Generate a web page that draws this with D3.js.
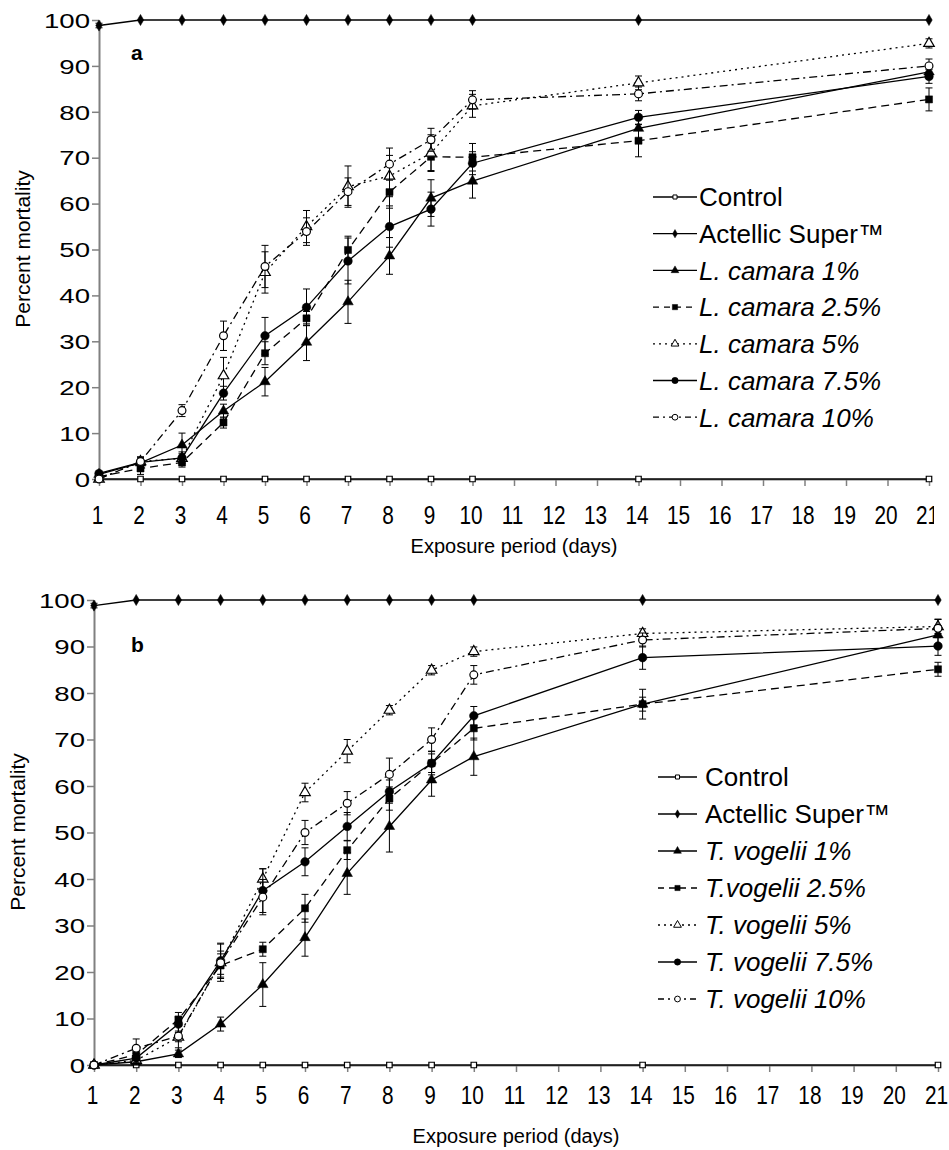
<!DOCTYPE html>
<html>
<head>
<meta charset="utf-8">
<script src="https://cdn.jsdelivr.net/npm/d3@7"></script>
<style>
  body { margin: 0; background: #fff; }
  text { font-family: "Liberation Sans", Arial, sans-serif; fill: #000; }
</style>
</head>
<body>
<svg id="chart" width="949" height="1150"></svg>
<script>
// Data
const days = [1, 2, 3, 4, 5, 6, 7, 8, 9, 10, 14, 21];
const xTicks = d3.range(1, 22);
const yTicks = d3.range(0, 101, 10);

const control = [0, 0, 0, 0, 0, 0, 0, 0, 0, 0, 0, 0];
const actellic = [98.8, 100, 100, 100, 100, 100, 100, 100, 100, 100, 100, 100];
const actellicErr = [0.5, 0, 0, 0, 0, 0, 0, 0, 0, 0, 0, 0];
const noErr = [0, 0, 0, 0, 0, 0, 0, 0, 0, 0, 0, 0];

// panel a: L. camara
const lc1  = [1.0, 3.5, 7.4, 14.8, 21.2, 29.8, 38.6, 48.6, 61.2, 64.9, 76.4, 88.7];
const lc25 = [0.5, 2.3, 3.6, 12.3, 27.4, 35.0, 49.9, 62.5, 70.2, 70.1, 73.7, 82.7];
const lc5  = [0, 3.8, 4.5, 22.5, 45.0, 55.0, 63.7, 66.0, 71.0, 81.3, 86.3, 94.9];
const lc75 = [1.2, 3.6, 4.6, 18.7, 31.2, 37.4, 47.5, 55.0, 58.8, 68.8, 78.8, 87.7];
const lc10 = [0, 3.8, 14.9, 31.2, 46.3, 53.9, 62.6, 68.6, 73.9, 82.6, 83.9, 90.0];
const lc1Err  = [0, 0.8, 2.6, 1.5, 3.1, 4.0, 4.7, 4.0, 4.0, 3.7, 2.5, 1.5];
const lc25Err = [0, 1.3, 1.0, 1.2, 2.5, 1.5, 3.0, 3.5, 3.0, 3.0, 3.5, 2.5];
const lc5Err  = [0, 1.0, 1.0, 4.0, 4.5, 3.5, 4.5, 4.5, 4.0, 2.5, 1.5, 1.0];
const lc75Err = [0.5, 1.0, 1.3, 1.5, 4.0, 4.0, 5.0, 4.5, 3.7, 2.5, 1.5, 1.5];
const lc10Err = [0, 1.0, 1.3, 3.2, 4.6, 3.0, 3.0, 3.5, 2.5, 2.0, 1.5, 1.5];
const namesA = ["Control", "Actellic Super™", "L. camara 1%", "L. camara 2.5%",
  "L. camara 5%", "L. camara 7.5%", "L. camara 10%"];

// panel b: T. vogelii
const tv1  = [0, 0.7, 2.4, 8.8, 17.3, 27.4, 41.2, 51.3, 61.3, 66.3, 77.6, 92.5];
const tv25 = [0, 2.2, 9.8, 21.4, 24.9, 33.7, 46.2, 57.3, 64.9, 72.4, 77.6, 85.1];
const tv5  = [0, 1.0, 6.0, 22.0, 40.0, 58.6, 67.5, 76.3, 84.9, 88.9, 92.8, 94.3];
const tv75 = [0, 1.5, 8.8, 22.4, 37.5, 43.7, 51.3, 58.8, 64.9, 75.1, 87.6, 90.1];
const tv10 = [0, 3.6, 6.2, 22.0, 36.1, 50.0, 56.3, 62.5, 70.0, 83.9, 91.4, 93.9];
const tv1Err  = [0, 0.5, 0.8, 1.5, 4.7, 4.0, 4.5, 5.5, 3.5, 4.0, 3.2, 2.0];
const tv25Err = [0, 1.5, 1.5, 2.5, 1.5, 3.0, 2.0, 2.5, 2.0, 2.5, 1.5, 1.5];
const tv5Err  = [0, 1.0, 1.0, 2.5, 2.2, 2.0, 2.5, 1.0, 1.0, 1.0, 1.0, 1.5];
const tv75Err = [0, 1.0, 1.5, 3.8, 4.7, 3.0, 3.0, 2.5, 2.5, 2.0, 2.5, 2.0];
const tv10Err = [0, 2.0, 2.5, 4.0, 3.8, 2.6, 2.5, 3.5, 2.5, 2.0, 1.5, 2.0];
const namesB = ["Control", "Actellic Super™", "T. vogelii 1%", "T.vogelii 2.5%",
  "T. vogelii 5%", "T. vogelii 7.5%", "T. vogelii 10%"];

// look of each series (same order in both panels)
const styles = [
  { sym: d3.symbolSquare, size: 30, open: true, dash: null },
  { sym: d3.symbolDiamond, size: 36, open: false, dash: null },
  { sym: d3.symbolTriangle, size: 48, open: false, dash: null },
  { sym: d3.symbolSquare, size: 50, open: false, dash: "8,5" },
  { sym: d3.symbolTriangle, size: 48, open: true, dash: "2,4" },
  { sym: d3.symbolCircle, size: 58, open: false, dash: null },
  { sym: d3.symbolCircle, size: 48, open: true, dash: "8,4,2,4" },
];

const panels = [
  {
    label: "a", left: 99, right: 929, top: 20, bottom: 479,
    values: [control, actellic, lc1, lc25, lc5, lc75, lc10],
    errors: [noErr, actellicErr, lc1Err, lc25Err, lc5Err, lc75Err, lc10Err],
    names: namesA, tickY: 45, titleY: 553, yTitleX: 30, yTitleY: 249, clipRight: 934,
    leg: { x1: 653, x2: 697, tx: 699, y: 197, dy: 36.7 }, lab: [131, 60],
  },
  {
    label: "b", left: 94, right: 938, top: 600, bottom: 1065,
    values: [control, actellic, tv1, tv25, tv5, tv75, tv10],
    errors: [noErr, actellicErr, tv1Err, tv25Err, tv5Err, tv75Err, tv10Err],
    names: namesB, tickY: 39, titleY: 1143, yTitleX: 25, yTitleY: 832, clipRight: 949,
    leg: { x1: 658, x2: 697, tx: 705, y: 777, dy: 37 }, lab: [131, 652],
  },
];

const svg = d3.select("#chart");
svg.append("rect").attr("width", 949).attr("height", 1150).attr("fill", "#fff");

panels.forEach((p, pi) => {
  const x = d3.scaleLinear().domain([1, 21]).range([p.left, p.right]);
  const y = d3.scaleLinear().domain([0, 100]).range([p.bottom, p.top]);
  const g = svg.append("g");

  // panel a's last tick label is cut at the right edge in the original
  svg.append("clipPath").attr("id", "clip" + pi)
    .append("rect").attr("x", 0).attr("y", 0).attr("width", p.clipRight).attr("height", 1150);

  // y axis
  const yAxis = g.append("g")
    .attr("transform", `translate(${p.left},0)`)
    .call(d3.axisLeft(y).tickValues(yTicks).tickSize(7).tickSizeOuter(0));
  yAxis.select(".domain").attr("stroke", "#808080").attr("stroke-width", 2);
  yAxis.selectAll(".tick line").attr("stroke", "#808080").attr("stroke-width", 1.5);
  yAxis.selectAll(".tick text")
    .attr("x", 0).attr("dy", "0.36em")
    .attr("transform", "translate(-9,0) scale(1.38,1)")
    .style("font-size", "20px");

  // x axis
  const xAxis = g.append("g")
    .attr("transform", `translate(0,${p.bottom})`)
    .attr("clip-path", `url(#clip${pi})`)
    .call(d3.axisBottom(x).tickValues(xTicks).tickSize(7).tickSizeOuter(0));
  xAxis.select(".domain").attr("stroke", "#808080").attr("stroke-width", 2);
  xAxis.selectAll(".tick line").attr("stroke", "#808080").attr("stroke-width", 1.5);
  xAxis.selectAll(".tick text")
    .attr("y", 0).attr("dy", null)
    .attr("transform", `translate(-2,${p.tickY}) scale(0.8,1)`)
    .style("font-size", "26px");

  // axis titles
  g.append("text")
    .attr("x", (p.left + p.right) / 2).attr("y", p.titleY)
    .attr("text-anchor", "middle").style("font-size", "20px")
    .text("Exposure period (days)");
  g.append("text")
    .attr("transform", `translate(${p.yTitleX},${p.yTitleY}) rotate(-90)`)
    .attr("text-anchor", "middle").style("font-size", "21px")
    .text("Percent mortality");

  // panel label
  g.append("text")
    .attr("x", p.lab[0]).attr("y", p.lab[1])
    .style("font-size", "21px").style("font-weight", "bold")
    .text(p.label);

  // series
  p.values.forEach((vals, si) => {
    const st = styles[si];
    const pts = days.map((d, i) => ({ d: d, v: vals[i], e: p.errors[si][i] }));
    const line = d3.line().x(q => x(q.d)).y(q => y(q.v));
    const sg = g.append("g");

    sg.append("path")
      .datum(pts)
      .attr("d", line)
      .attr("fill", "none")
      .attr("stroke", "#000")
      .attr("stroke-width", 1.3)
      .attr("stroke-dasharray", st.dash);

    // error bars
    const eb = sg.selectAll(".eb")
      .data(pts.filter(q => q.e > 0))
      .enter().append("g");
    eb.append("line")
      .attr("x1", q => x(q.d)).attr("x2", q => x(q.d))
      .attr("y1", q => y(q.v - q.e)).attr("y2", q => y(Math.min(100, q.v + q.e)))
      .attr("stroke", "#000").attr("stroke-width", 1);
    [-1, 1].forEach(sgn => {
      eb.append("line")
        .attr("x1", q => x(q.d) - 3.5).attr("x2", q => x(q.d) + 3.5)
        .attr("y1", q => y(q.v + sgn * q.e)).attr("y2", q => y(q.v + sgn * q.e))
        .attr("stroke", "#000").attr("stroke-width", 1);
    });

    sg.selectAll(".mk")
      .data(pts)
      .enter().append("path")
      .attr("transform", q => `translate(${x(q.d)},${y(q.v)})`)
      .attr("d", d3.symbol().type(st.sym).size(st.size))
      .attr("fill", st.open ? "#fff" : "#000")
      .attr("stroke", "#000")
      .attr("stroke-width", st.open ? 1.2 : 0.5);
  });

  // legend
  const lg = g.append("g");
  p.names.forEach((name, si) => {
    const st = styles[si];
    const ly = p.leg.y + si * p.leg.dy;
    lg.append("line")
      .attr("x1", p.leg.x1).attr("x2", p.leg.x2)
      .attr("y1", ly).attr("y2", ly)
      .attr("stroke", "#000").attr("stroke-width", 1.3)
      .attr("stroke-dasharray", st.dash ? st.dash.replace("8", "6") : null);
    lg.append("path")
      .attr("transform", `translate(${(p.leg.x1 + p.leg.x2) / 2},${ly})`)
      .attr("d", d3.symbol().type(st.sym).size(st.size * 0.55))
      .attr("fill", st.open ? "#fff" : "#000")
      .attr("stroke", "#000")
      .attr("stroke-width", st.open ? 1 : 0.5);
    lg.append("text")
      .attr("x", p.leg.tx).attr("y", ly).attr("dy", "0.36em")
      .style("font-size", "26px")
      .style("font-style", si > 1 ? "italic" : "normal")
      .text(name);
  });
});
</script>
</body>
</html>
